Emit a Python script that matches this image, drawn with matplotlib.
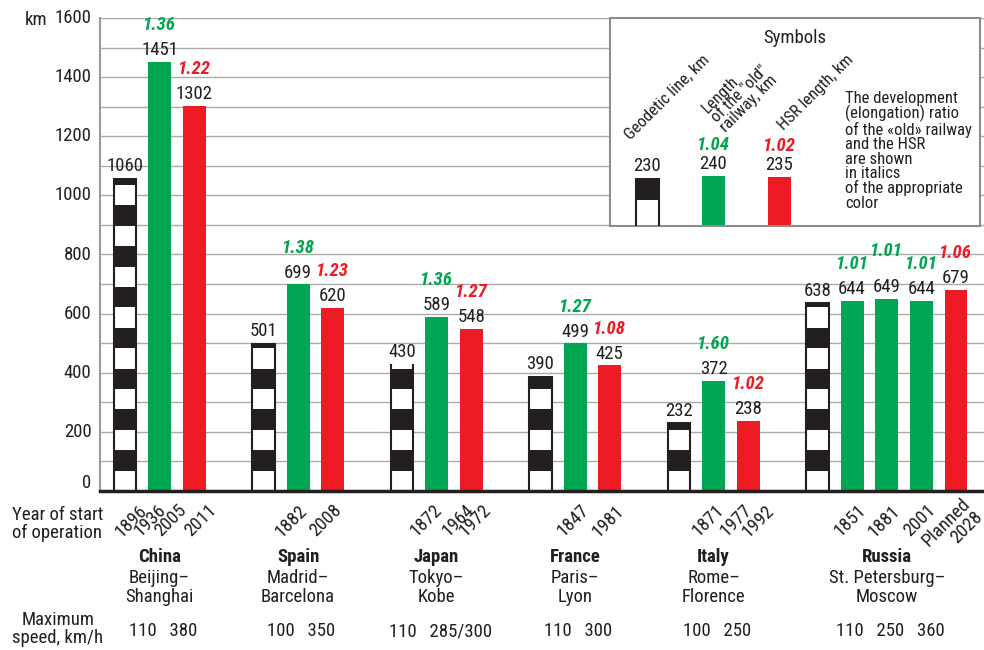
import matplotlib
matplotlib.use('Agg')
import matplotlib.pyplot as plt
from matplotlib import transforms

plt.rcParams['font.family'] = ['Roboto Condensed', 'Roboto', 'DejaVu Sans']

# data
countries = ['China', 'Spain', 'Japan', 'France', 'Italy', 'Russia']
routes = ['Beijing–\nShanghai', 'Madrid–\nBarcelona', 'Tokyo–\nKobe',
          'Paris–\nLyon', 'Rome–\nFlorence', 'St. Petersburg–\nMoscow']
geodetic = [1060, 501, 430, 390, 232, 638]
old_rail = [[1451], [699], [589], [499], [372], [644, 649, 644]]
old_ratio = [[1.36], [1.38], [1.36], [1.27], [1.60], [1.01, 1.01, 1.01]]
hsr = [1302, 620, 548, 425, 238, 679]
hsr_ratio = [1.22, 1.23, 1.27, 1.08, 1.02, 1.06]
years = [['1896', '1936', '2005', '2011'], ['1882', '2008'],
         ['1872', '1964', '1972'], ['1847', '1981'],
         ['1871', '1977', '1992'], ['1851', '1881', '2001', 'Planned\n2028']]
speeds = [['110', '380'], ['100', '350'], ['110', '285/300'],
          ['110', '300'], ['100', '250'], ['110', '250', '360']]

leg_values = [230, 240, 235]
leg_ratio = [None, 1.04, 1.02]

# layout: where the year labels sit inside each group (in bar slots)
year_off = [[0.55, 1.10, 1.70, 2.57], [1.17, 2.18], [1.07, 2.0, 2.5],
            [1.31, 2.33], [1.21, 2.02, 2.66], [1.31, 2.32, 3.34, 4.5]]

GREEN = '#00a651'
RED = '#ed1c24'
DARK = '#231f20'
FS = 13.5
LFS = 12
W = 0.66
STRIPE = 69

fig = plt.figure(figsize=(9.84, 6.5), dpi=100)
ax = fig.add_axes([100/984, 159/650, 884/984, 473/650])
ax.set_xlim(-0.722, 24.81)
ax.set_ylim(0, 1600)
ax.set_yticks(range(0, 1601, 100))
ax.set_yticklabels([])
ax.set_xticks([])
ax.tick_params(axis='y', length=0)
ax.yaxis.grid(True, color='#aaaaaa', lw=1)
ax.set_axisbelow(True)
for s in ['top', 'right']:
    ax.spines[s].set_visible(False)
ax.spines['left'].set_color('#9a9a9a')
ax.spines['left'].set_linewidth(1.5)
ax.spines['bottom'].set_color(DARK)
ax.spines['bottom'].set_linewidth(2.5)
ax.spines['bottom'].set_zorder(4)

for v in range(0, 1601, 200):
    ax.annotate(str(v), xy=(0, v), xycoords=('axes fraction', 'data'),
                xytext=(-6, 6 if v == 0 else 0), textcoords='offset points',
                ha='right', va='center', fontsize=FS, color=DARK, annotation_clip=False)
fig.text(25/984, 1 - 20/650, 'km', ha='left', va='center', fontsize=FS, color=DARK)


def striped(a, x, val, stripe, w=W, lw=1.5):
    b, k = 0, 0
    while b < val:
        a.bar(x, min(stripe, val - b), bottom=b, width=w,
              color='white' if k % 2 == 0 else DARK, lw=0, zorder=2)
        b += stripe
        k += 1
    a.vlines([x - w/2, x + w/2], 0, val, color=DARK, lw=lw, zorder=3)


def label(a, x, val, ratio=None, color=None, lift=0):
    a.annotate(str(val), (x, val), xytext=(0, 2), textcoords='offset points',
               ha='center', va='bottom', fontsize=FS, color=DARK)
    if ratio is not None:
        a.annotate(f'{ratio:.2f}', (x, val), xytext=(0, 20 + lift), textcoords='offset points',
                   ha='center', va='bottom', fontsize=FS, color=color,
                   fontstyle='italic', fontweight='bold')


tr = transforms.blended_transform_factory(ax.transData, fig.transFigure)
start = 0
for i in range(len(countries)):
    striped(ax, start, geodetic[i], STRIPE)
    label(ax, start, geodetic[i])
    for j, v in enumerate(old_rail[i]):
        x = start + 1 + j
        ax.bar(x, v, width=W, color=GREEN, zorder=2)
        lift = 8 if (len(old_rail[i]) == 3 and j == 1) else 0
        label(ax, x, v, old_ratio[i][j], GREEN, lift)
    xr = start + 1 + len(old_rail[i])
    ax.bar(xr, hsr[i], width=W, color=RED, zorder=2)
    label(ax, xr, hsr[i], hsr_ratio[i], RED)

    for yr, off in zip(years[i], year_off[i]):
        ax.annotate(yr, xy=(start + off, 0), xytext=(0, -12), textcoords='offset points',
                    rotation=45, rotation_mode='anchor', ha='right', va='center',
                    fontsize=FS, color=DARK, linespacing=0.95, annotation_clip=False)

    center = (start + xr) / 2
    ax.text(center, 1 - 557/650, countries[i], transform=tr, ha='center', va='center',
            fontsize=FS, fontweight='bold', color=DARK)
    ax.text(center, 1 - 587.5/650, routes[i], transform=tr, ha='center', va='center',
            fontsize=FS, color=DARK, linespacing=1.1)
    ax.text(center + 0.1, 1 - 631/650, '   '.join(speeds[i]), transform=tr,
            ha='center', va='center', fontsize=FS, color=DARK)
    start = xr + 2

fig.text(12/984, 1 - 524/650, 'Year of start\nof operation', ha='left', va='center',
         fontsize=FS, color=DARK, linespacing=0.98)
fig.text(58/984, 1 - 629/650, 'Maximum\nspeed, km/h', ha='center', va='center',
         fontsize=FS, color=DARK, linespacing=0.98)

# legend box
lax = fig.add_axes([610/984, 424/650, 370/984, 208/650], zorder=5)
lax.set_xlim(-0.568, 5.04)
lax.set_ylim(0, 1000)
lax.set_xticks([])
lax.set_yticks([])
for s in lax.spines.values():
    s.set_color('#8c8c8c')
    s.set_linewidth(1.5)

LW = 0.35
striped(lax, 0, leg_values[0], 125, w=LW)
label(lax, 0, leg_values[0])
lax.bar(1, leg_values[1], width=LW, color=GREEN, zorder=2)
label(lax, 1, leg_values[1], leg_ratio[1], GREEN, lift=-4)
lax.bar(2, leg_values[2], width=LW, color=RED, zorder=2)
label(lax, 2, leg_values[2], leg_ratio[2], RED, lift=-4)

lax.text(0.5, 0.904, 'Symbols', transform=lax.transAxes, ha='center', va='center',
         fontsize=FS, color=DARK)
lax.text(0.154, 0.62, 'Geodetic line, km', transform=lax.transAxes, rotation=45,
         rotation_mode='anchor', ha='center', va='center', fontsize=LFS, color=DARK)
lax.text(0.35, 0.635, 'Length\nof the "old"\nrailway, km', transform=lax.transAxes,
         rotation=45, rotation_mode='anchor', ha='center', va='center',
         multialignment='left', fontsize=LFS, color=DARK, linespacing=0.85)
lax.text(0.557, 0.644, 'HSR length, km', transform=lax.transAxes, rotation=45,
         rotation_mode='anchor', ha='center', va='center', fontsize=LFS, color=DARK)
lax.text(0.635, 0.65, 'The development\n(elongation) ratio\nof the «old» railway\n'
         'and the HSR\nare shown\nin italics\nof the appropriate\ncolor',
         transform=lax.transAxes, ha='left', va='top', fontsize=LFS, color=DARK,
         linespacing=0.95)

fig.savefig('out.png', dpi=100)
